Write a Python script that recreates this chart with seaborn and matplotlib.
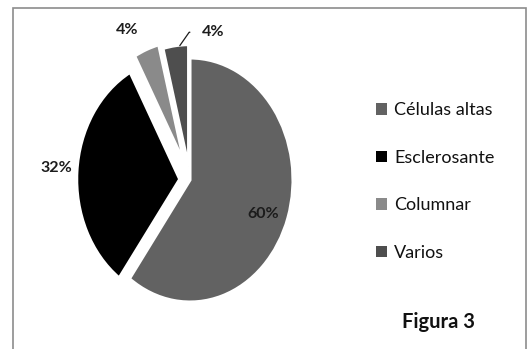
import numpy as np
import matplotlib
matplotlib.use("Agg")
import matplotlib.pyplot as plt
from matplotlib.patches import Rectangle, Patch
import seaborn as sns

categories = ["Células altas", "Esclerosante", "Columnar", "Varios"]
values = [60, 32, 4, 4]
colors = ["#626262", "#000000", "#8a8a8a", "#4e4e4e"]
explode = [0.0, 0.10, 0.15, 0.11]

sns.set_theme(style="white")
plt.rcParams["font.family"] = ["Lato", "DejaVu Sans"]

W, H = 531, 349
fig = plt.figure(figsize=(W / 100, H / 100), dpi=100)
fig.patch.set_facecolor("white")

# frame around the chart area (bottom edge falls outside the canvas)
fig.add_artist(Rectangle((13 / W, -0.05), (526 - 13) / W, 1.05 - 8 / H,
                         transform=fig.transFigure, fill=False,
                         edgecolor="#8c8c8c", linewidth=1.2))

# pie axes: elliptical pie, centre at (190, 180) px, radii 103 x 122 px
cx, cy, rx, ry, span = 190, 180, 103, 122, 1.6
ax = fig.add_axes([(cx - rx * span) / W, 1 - (cy + ry * span) / H,
                   2 * rx * span / W, 2 * ry * span / H])

lbl_font = dict(fontsize=11.5, fontweight="bold", color="#1c1c1c")
wedges, texts, autotexts = ax.pie(
    values, colors=colors, explode=explode, startangle=90, counterclock=False,
    autopct="%1.0f%%", pctdistance=0.7, frame=False,
    wedgeprops=dict(edgecolor="white", linewidth=2.2),
    textprops=lbl_font,
)
ax.set_xlim(-span, span)
ax.set_ylim(-span, span)
ax.set_aspect("auto")
ax.axis("off")

# label radius along each slice's mid-angle, plus a small nudge
label_r = [0.72, 1.2, 1.17, None]
nudge = [(0.03, -0.06), (0.0, 0.02), (-0.12, 0.0), None]
for w, t, r, e, n in zip(wedges, autotexts, label_r, explode, nudge):
    mid = np.deg2rad((w.theta1 + w.theta2) / 2)
    d = np.array([np.cos(mid), np.sin(mid)])
    if r is not None:
        t.set_position(tuple(d * (r + e) + np.array(n)))

# last label sits to the right of its slice with a short leader line
w = wedges[3]
mid = np.deg2rad((w.theta1 + w.theta2) / 2)
tip = np.array([np.cos(mid), np.sin(mid)]) * (1.0 + explode[3])
autotexts[3].set_visible(False)
ax.annotate(autotexts[3].get_text(), xy=tuple(tip + [0.04, 0.0]),
            xytext=tuple(tip + [0.36, 0.11]), ha="center", va="center",
            arrowprops=dict(arrowstyle="-", color="#1c1c1c", lw=0.9,
                            shrinkA=6, shrinkB=0,
                            connectionstyle="angle,angleA=0,angleB=55,rad=0"),
            **lbl_font)

handles = [Patch(facecolor=c, edgecolor="none") for c in colors]
fig.legend(handles, categories, loc="upper left",
           bbox_to_anchor=(360 / W, 1 - 86 / H), frameon=False,
           fontsize=13, labelspacing=1.75, handlelength=0.6,
           handleheight=0.6, handletextpad=0.4, labelcolor="#111111")

fig.text(438 / W, 1 - 322 / H, "Figura 3", ha="center", va="center",
         fontsize=14.5, fontweight="bold", color="#111111")

fig.savefig("out.png", dpi=100, facecolor="white")
